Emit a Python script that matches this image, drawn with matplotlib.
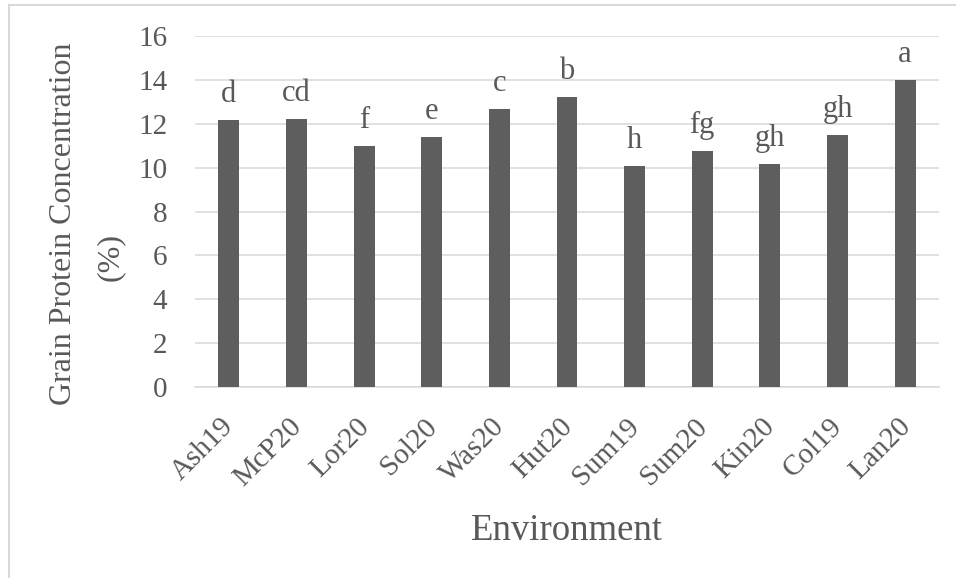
import matplotlib.pyplot as plt
from matplotlib.lines import Line2D
from matplotlib.transforms import ScaledTranslation

# data
environments = ['Ash19', 'McP20', 'Lor20', 'Sol20', 'Was20', 'Hut20',
                'Sum19', 'Sum20', 'Kin20', 'Col19', 'Lan20']
protein = [12.19, 12.23, 11.00, 11.41, 12.67, 13.20,
           10.06, 10.77, 10.16, 11.50, 14.01]
letters = ['d', 'cd', 'f', 'e', 'c', 'b', 'h', 'fg', 'gh', 'gh', 'a']
y_ticks = [0, 2, 4, 6, 8, 10, 12, 14, 16]

W, H = 956, 578
txt = '#595959'
grid = '#d9d9d9'
plt.rcParams['font.family'] = ['Liberation Serif', 'DejaVu Serif']

fig = plt.figure(figsize=(W / 100, H / 100), dpi=100)
ax = fig.add_axes([195 / W, 1 - 387 / H, (939 - 195) / W, (387 - 36) / H])

x = range(len(environments))
ax.bar(x, protein, width=0.31, color='#5e5e5e', zorder=3)
for xi, v, lab in zip(x, protein, letters):
    ax.annotate(lab, (xi, v), xytext=(0, 13), textcoords='offset points',
                ha='center', va='baseline', fontsize=22, color=txt)

ax.set_xlim(-0.5, len(environments) - 0.5)
ax.set_ylim(0, 16)
ax.set_yticks(y_ticks)
ax.set_xticks(list(x))
ax.set_xticklabels(environments, rotation=45, ha='right', va='top',
                   rotation_mode='anchor')
ax.tick_params(axis='both', length=0, labelsize=21, colors=txt)
ax.tick_params(axis='y', pad=20)
ax.tick_params(axis='x', pad=19)
shift = ScaledTranslation(-8 / 100, 0, fig.dpi_scale_trans)
for lbl in ax.get_xticklabels():
    lbl.set_transform(lbl.get_transform() + shift)
ax.yaxis.grid(True, color=grid, linewidth=1.1, zorder=0)
for s in ['top', 'right', 'left']:
    ax.spines[s].set_visible(False)
ax.spines['bottom'].set_color(grid)
ax.spines['bottom'].set_linewidth(1.1)
ax.spines['bottom'].set_zorder(1)

fig.text(64 / W, 1 - 224 / H, 'Grain Protein Concentration', rotation=90,
         ha='center', va='center', fontsize=23, color=txt)
fig.text(110 / W, 1 - 257 / H, '(%)', rotation=90,
         ha='center', va='center', fontsize=23, color=txt)
fig.text(567 / W, 1 - 540 / H, 'Environment', ha='center', va='baseline',
         fontsize=26.5, color=txt)

# chart area border (only left and top edges are visible)
fig.add_artist(Line2D([8.5 / W, 8.5 / W], [0, 1 - 5 / H], color=grid,
                      linewidth=1.5, transform=fig.transFigure))
fig.add_artist(Line2D([8.5 / W, 1], [1 - 5 / H, 1 - 5 / H], color=grid,
                      linewidth=1.5, transform=fig.transFigure))

fig.savefig('out.png', dpi=100)
